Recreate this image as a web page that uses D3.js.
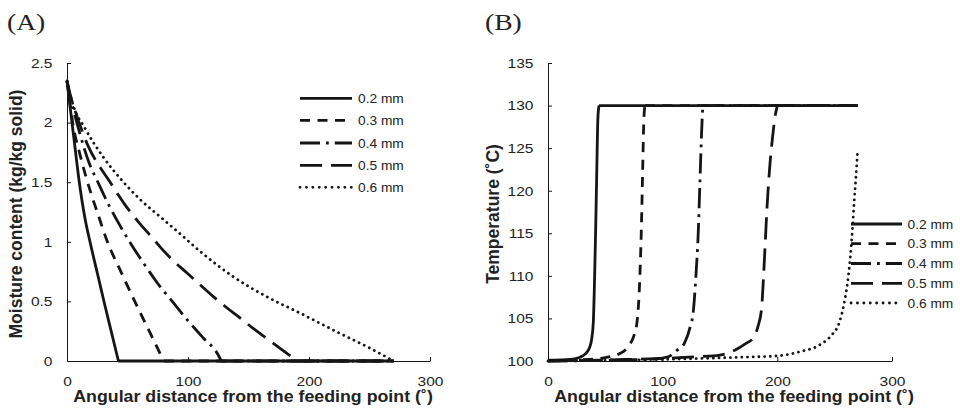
<!DOCTYPE html>
<html><head><meta charset="utf-8">
<script src="https://cdn.jsdelivr.net/npm/d3@7"></script>
<style>body{margin:0;background:#fff}svg{display:block}</style>
</head><body>
<svg id="chart" width="960" height="408"></svg>
<script>
// ---------- data ----------
const sizeLabels = ["0.2 mm", "0.3 mm", "0.4 mm", "0.5 mm", "0.6 mm"];
const angleTicks = [0, 100, 200, 300];
const moistureTicks = [0, 0.5, 1, 1.5, 2, 2.5];
const moistureTickLabels = ["0", "0.5", "1", "1.5", "2", "2.5"];
const tempTicks = [100, 105, 110, 115, 120, 125, 130, 135];
const tempTickLabels = ["100", "105", "110", "115", "120", "125", "130", "135"];

// (A) moisture content
const moist02Angle = [0, 2, 4, 7, 9.5, 12, 15, 19, 25, 31, 37, 42.5, 270];
const moist02Value = [2.35, 2.18, 2.01, 1.76, 1.55, 1.37, 1.19, 1.0, 0.74, 0.48, 0.23, 0, 0];
const moist03Angle = [0, 2, 5, 10, 15, 20, 25, 33, 45, 56, 68, 80, 270];
const moist03Value = [2.35, 2.2, 1.98, 1.76, 1.57, 1.40, 1.25, 1.01, 0.74, 0.5, 0.25, 0, 0];
const moist04Angle = [0, 2, 5, 10, 18, 26, 34, 43, 53, 64, 75, 87, 99, 112, 125, 127.5, 270];
const moist04Value = [2.35, 2.25, 2.12, 1.93, 1.67, 1.49, 1.32, 1.15, 0.98, 0.81, 0.65, 0.5, 0.35, 0.2, 0.05, 0, 0];
const moist05Angle = [0, 3, 6, 10, 17.6, 27, 35, 42, 48, 60, 70, 78, 88, 99, 110, 121, 131, 142, 153, 165, 177, 190, 270];
const moist05Value = [2.35, 2.22, 2.12, 2.0, 1.80, 1.63, 1.51, 1.40, 1.31, 1.155, 1.04, 0.945, 0.84, 0.74, 0.64, 0.54, 0.455, 0.37, 0.28, 0.19, 0.10, 0, 0];
const moist06Angle = [0, 5, 15, 30, 45, 62, 77, 92, 110, 137, 165, 193, 220, 248, 270];
const moist06Value = [2.35, 2.15, 1.95, 1.71, 1.52, 1.34, 1.21, 1.08, 0.92, 0.71, 0.54, 0.40, 0.26, 0.12, 0];

// (B) temperature
const temp02Angle = [0, 20, 28, 33, 36, 38, 39.5, 40.5, 41.5, 42.5, 43.5, 44.5, 270];
const temp02Value = [100.1, 100.2, 100.45, 100.9, 101.5, 102.5, 104.5, 109, 115, 122, 128.5, 130, 130];
const temp03Angle = [0, 30, 50, 63, 71, 75, 78, 80, 81.5, 82.5, 83.5, 84.5, 270];
const temp03Value = [100.05, 100.15, 100.4, 100.9, 101.9, 103, 105, 109.5, 116, 122, 128, 130, 130];
const temp04Angle = [0, 60, 90, 105, 112, 119, 124, 126.7, 129, 131, 132.5, 134, 135, 270];
const temp04Value = [100, 100.1, 100.2, 100.5, 101.2, 102.1, 104, 105.8, 110, 115, 121, 127, 130, 130];
const temp05Angle = [0, 60, 100, 130, 150, 166, 173, 179, 183, 186.3, 188, 189.5, 191, 193.5, 196, 198, 200, 270];
const temp05Value = [100, 100.15, 100.3, 100.5, 100.7, 101.5, 102.1, 102.7, 104, 106.2, 110, 114, 118, 123, 126.5, 128.7, 130, 130];
const temp06Angle = [0, 60, 120, 170, 200, 220, 237, 247, 254, 258, 261, 263.5, 265.5, 267, 268.5, 270];
const temp06Value = [100, 100.1, 100.25, 100.45, 100.6, 101.1, 101.9, 103, 104.5, 106.6, 109, 112, 115.5, 118.7, 121.5, 124.7];

// ---------- styles ----------
const dashes = ["none", "10,7.5", "20,6,2.8,6", "22,9", "0.1,5.6"];
const caps = ["butt", "butt", "butt", "butt", "round"];
const INK = "#151515", TXT = "#222";
const SANS = "'Liberation Sans', Arial, sans-serif";
const LW = 2.8;

const svg = d3.select("#chart");

function zip(xs, ys) { return xs.map((x, i) => [x, ys[i]]); }

function stretch(sel, sx) {
  sel.each(function () {
    const t = d3.select(this);
    const x = +t.attr("x") || 0, y = +t.attr("y") || 0;
    t.attr("x", 0).attr("y", 0).attr("transform", `translate(${x},${y}) scale(${sx},1)`);
  });
}

// split a series into its varying part and its final constant plateau
function splitSeries(pts) {
  let k = pts.length - 1;
  while (k > 0 && pts[k - 1][1] === pts[pts.length - 1][1]) k--;
  if (k === pts.length - 1) return [pts, null];
  return [pts.slice(0, k + 1), pts.slice(k)];
}

function panel(opt) {
  const x = d3.scaleLinear().domain([0, 300]).range(opt.xr);
  const y = d3.scaleLinear().domain(opt.yd).range([361, 63]);
  const g = svg.append("g");

  // axes
  const ax = g.append("g").attr("transform", `translate(0,361)`)
    .call(d3.axisBottom(x).tickValues(angleTicks).tickFormat(d3.format("d"))
      .tickSizeInner(-4).tickSizeOuter(0).tickPadding(15));
  const ay = g.append("g").attr("transform", `translate(${opt.xr[0]},0)`)
    .call(d3.axisLeft(y).tickValues(opt.ticks).tickFormat((d, i) => opt.tickLabels[i])
      .tickSizeInner(-4).tickSizeOuter(0).tickPadding(14.5));
  [ax, ay].forEach(a => {
    a.select(".domain").attr("stroke", INK).attr("stroke-width", 1);
    a.selectAll(".tick line").attr("stroke", INK).attr("stroke-width", 1);
    a.selectAll(".tick text").attr("fill", TXT).attr("font-family", SANS).attr("font-size", 13.5);
    stretch(a.selectAll(".tick text"), 1.15);
  });

  // lines
  const smooth = d3.line().x(d => x(d[0])).y(d => y(d[1])).curve(d3.curveMonotoneX);
  const straight = d3.line().x(d => x(d[0])).y(d => y(d[1]));
  opt.series.forEach((s, i) => {
    const [vary, flat] = splitSeries(zip(s[0], s[1]));
    const parts = [[vary, smooth]];
    if (flat) parts.push([flat, straight]);
    parts.forEach(([pts, gen]) => {
      g.append("path").datum(pts)
        .attr("d", gen).attr("fill", "none").attr("stroke", INK)
        .attr("stroke-width", LW).attr("stroke-dasharray", dashes[i])
        .attr("stroke-linecap", caps[i]).attr("stroke-linejoin", "round");
    });
  });

  // legend
  const lg = g.append("g");
  sizeLabels.forEach((lab, i) => {
    const ly = opt.legY[i];
    lg.append("line").attr("x1", opt.legX[0]).attr("x2", opt.legX[1])
      .attr("y1", ly).attr("y2", ly).attr("stroke", INK).attr("stroke-width", LW)
      .attr("stroke-dasharray", i === 4 ? "0.1,6.3" : dashes[i]).attr("stroke-linecap", caps[i]);
    const t = lg.append("text").attr("x", opt.legX[2]).attr("y", ly).attr("dy", "0.36em")
      .attr("fill", TXT).attr("font-family", SANS).attr("font-size", 12.5).text(lab);
    stretch(t, 1.1);
  });

  // titles
  const xt = g.append("text").attr("x", opt.xTitleX).attr("y", 402)
    .attr("text-anchor", "middle").attr("font-family", SANS).attr("font-weight", "bold")
    .attr("font-size", 16).attr("fill", TXT).text("Angular distance from the feeding point (˚)");
  const len = xt.node().getComputedTextLength();
  stretch(xt, 360 / len);

  g.append("text").attr("transform", `translate(${opt.yTitleX},${opt.yTitleY}) rotate(-90)`)
    .attr("text-anchor", "middle").attr("font-family", SANS).attr("font-weight", "bold")
    .attr("font-size", 17.5).attr("fill", TXT).text(opt.yTitle);

  const pl = g.append("text").attr("x", opt.panelX).attr("y", 30)
    .attr("font-family", "'Liberation Serif', 'Times New Roman', serif").attr("font-size", 24)
    .attr("fill", TXT).text(opt.panel);
  stretch(pl, 1.15);
}

panel({
  xr: [67, 430], yd: [0, 2.5], ticks: moistureTicks, tickLabels: moistureTickLabels,
  series: [[moist02Angle, moist02Value], [moist03Angle, moist03Value], [moist04Angle, moist04Value],
           [moist05Angle, moist05Value], [moist06Angle, moist06Value]],
  legX: [300, 352, 358], legY: [98.3, 120.3, 143, 165.3, 187.3],
  xTitleX: 253, yTitleX: 21.5, yTitleY: 214, yTitle: "Moisture content (kg/kg solid)",
  panelX: 7, panel: "(A)"
});
panel({
  xr: [548, 892], yd: [100, 135], ticks: tempTicks, tickLabels: tempTickLabels,
  series: [[temp02Angle, temp02Value], [temp03Angle, temp03Value], [temp04Angle, temp04Value],
           [temp05Angle, temp05Value], [temp06Angle, temp06Value]],
  legX: [851, 902, 907.5], legY: [224, 243.7, 263.5, 283.3, 303],
  xTitleX: 734, yTitleX: 499, yTitleY: 214, yTitle: "Temperature (˚C)",
  panelX: 485, panel: "(B)"
});
</script>
</body></html>
